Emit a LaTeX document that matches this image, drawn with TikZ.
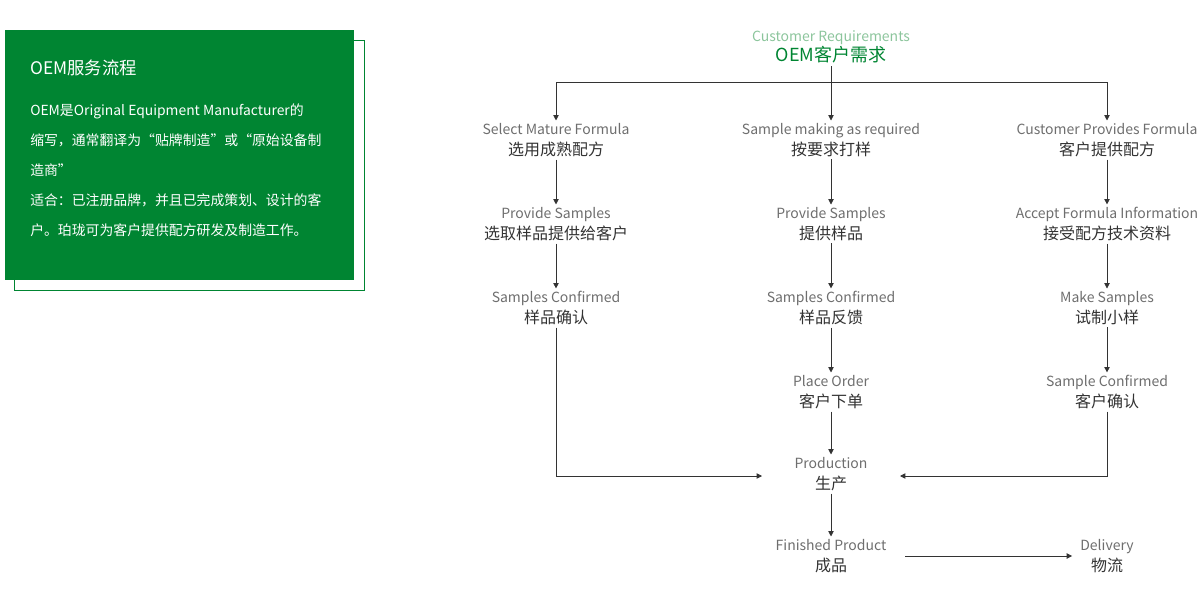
\documentclass[tikz,border=0pt]{standalone}
\usepackage{fontspec}
\setmainfont{Noto Sans CJK SC}
\usetikzlibrary{arrows.meta}
\definecolor{oemgreen}{HTML}{008532}
\definecolor{lightgreen}{HTML}{8CC59C}
\definecolor{engray}{HTML}{6E6E6E}
\definecolor{zhgray}{HTML}{333333}
\tikzset{
  flowstep/.style={align=center, inner sep=2pt, font=\fontsize{10.5}{15.5}\selectfont},
  flow/.style={draw=zhgray, line width=0.6pt, -{Triangle[length=4pt,width=4pt]}},
  line/.style={draw=zhgray, line width=0.6pt}
}
\newcommand{\stepnode}[4]{\node[flowstep] (#1) at (#2) {\textcolor{engray}{#3}\\\textcolor{zhgray}{\fontsize{12}{15.5}\selectfont #4}};}
\begin{document}
\begin{tikzpicture}[x=0.75pt,y=-0.75pt]
  \useasboundingbox (0,0) rectangle (1203,606);
  % info box
  \draw[oemgreen, line width=0.6pt] (14,40) rectangle (364,290);
  \fill[oemgreen] (5,30) rectangle (354,280);
  \node[anchor=west, text=white, font=\fontsize{13}{15}\selectfont, inner sep=0pt] (title) at (30,68) {OEM服务流程};
  \node[anchor=north west, text=white, align=left, inner sep=0pt,
        font=\fontsize{10.4}{22.5}\selectfont] (info) at (30,104)
    {OEM是Original Equipment Manufacturer的\\
     缩写，通常翻译为“贴牌制造”或“原始设备制\\
     造商”\\
     适合：已注册品牌，并且已完成策划、设计的客\\
     户。珀珑可为客户提供配方研发及制造工作。};
  % top
  \node[align=center, inner sep=2pt] (req) at (831,47)
    {\textcolor{lightgreen}{\fontsize{10.5}{15}\selectfont Customer Requirements}\\
     \textcolor{oemgreen}{\fontsize{13.5}{15}\selectfont OEM客户需求}};
  % columns
  \stepnode{a1}{556,140}{Select Mature Formula}{选用成熟配方}
  \stepnode{a2}{556,224}{Provide Samples}{选取样品提供给客户}
  \stepnode{a3}{556,308}{Samples Confirmed}{样品确认}
  \stepnode{b1}{831,140}{Sample making as required}{按要求打样}
  \stepnode{b2}{831,224}{Provide Samples}{提供样品}
  \stepnode{b3}{831,308}{Samples Confirmed}{样品反馈}
  \stepnode{b4}{831,392}{Place Order}{客户下单}
  \stepnode{c1}{1107,140}{Customer Provides Formula}{客户提供配方}
  \stepnode{c2}{1107,224}{Accept Formula Information}{接受配方技术资料}
  \stepnode{c3}{1107,308}{Make Samples}{试制小样}
  \stepnode{c4}{1107,392}{Sample Confirmed}{客户确认}
  \stepnode{prod}{831,474}{Production}{生产}
  \stepnode{fin}{831,556}{Finished Product}{成品}
  \stepnode{del}{1107,556}{Delivery}{物流}
  % connectors
  \coordinate (split) at (831,82);
  \coordinate (prodin-l) at (762,476);
  \coordinate (prodin-r) at (900,476);
  \draw[line] (req.south) -- (split);
  \draw[flow] (split) -- (b1.north);
  \draw[flow] (split) -| (a1.north);
  \draw[flow] (split) -| (c1.north);
  \foreach \s/\t in {a1/a2, a2/a3, b1/b2, b2/b3, b3/b4, b4/prod, c1/c2, c2/c3, c3/c4, prod/fin}
    \draw[flow] (\s.south) -- (\t.north);
  \draw[flow] (a3.south) |- (prodin-l);
  \draw[flow] (c4.south) |- (prodin-r);
  \draw[flow] ([xshift=12pt]fin.east) -- ([xshift=-4pt]del.west);
\end{tikzpicture}
\end{document}
